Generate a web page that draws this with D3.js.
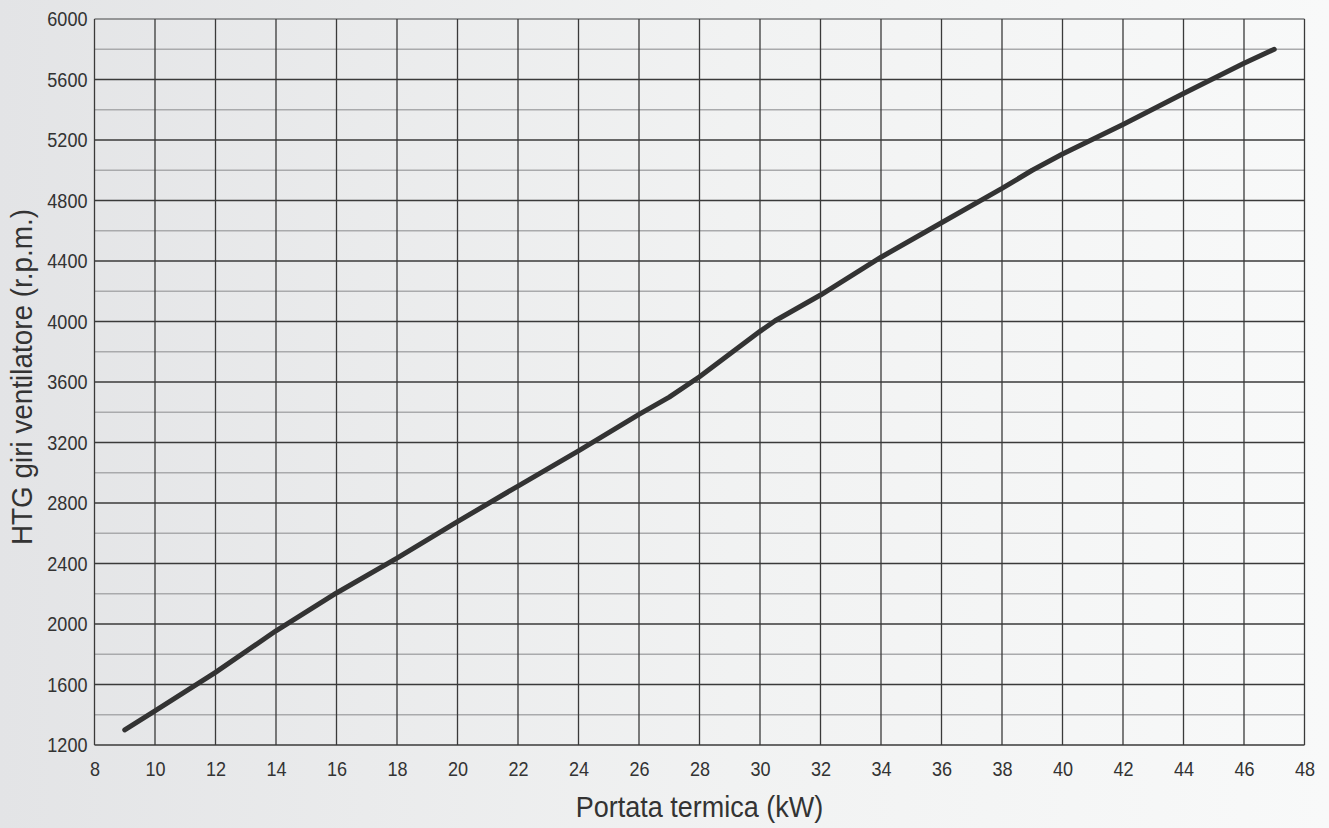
<!DOCTYPE html>
<html>
<head>
<meta charset="utf-8">
<script src="https://cdn.jsdelivr.net/npm/d3@7"></script>
<style>
  html, body { margin: 0; padding: 0; }
  body { width: 1329px; height: 828px; overflow: hidden; }
  text { font-family: "Liberation Sans", Arial, sans-serif; fill: #333; }
</style>
</head>
<body>
<svg id="chart" width="1329" height="828"></svg>
<script>
// Data
const kW  = [9, 10, 12, 14, 16, 18, 20, 22, 24, 26, 27, 28, 30, 30.5, 32, 34, 36, 38, 39, 40, 42, 44, 46, 47];
const rpm = [1300, 1425, 1680, 1955, 2205, 2435, 2677, 2912, 3145, 3386, 3500, 3635, 3935, 4005, 4175, 4425, 4653, 4880, 5000, 5107, 5303, 5508, 5707, 5800];
const xTicks = [8, 10, 12, 14, 16, 18, 20, 22, 24, 26, 28, 30, 32, 34, 36, 38, 40, 42, 44, 46, 48];
const yTicks = [1200, 1600, 2000, 2400, 2800, 3200, 3600, 4000, 4400, 4800, 5200, 5600, 6000];
const yMinor = [1400, 1800, 2200, 2600, 3000, 3400, 3800, 4200, 4600, 5000, 5400, 5800];
const xTitle = "Portata termica (kW)";
const yTitle = "HTG giri ventilatore (r.p.m.)";

const svg = d3.select("#chart");
const W = 1329, H = 828;
const m = { left: 94.5, right: 1304.5, top: 19, bottom: 745 };
const condense = 0.86;

// background gradient
const defs = svg.append("defs");
const grad = defs.append("linearGradient").attr("id", "bg").attr("x1", "0%").attr("x2", "100%").attr("y1", "0%").attr("y2", "0%");
grad.append("stop").attr("offset", "0%").attr("stop-color", "#e3e4e6");
grad.append("stop").attr("offset", "55%").attr("stop-color", "#f1f2f2");
grad.append("stop").attr("offset", "100%").attr("stop-color", "#f8f9f9");
svg.append("rect").attr("width", W).attr("height", H).attr("fill", "url(#bg)");

const x = d3.scaleLinear().domain([8, 48]).range([m.left, m.right]);
const y = d3.scaleLinear().domain([1200, 6000]).range([m.bottom, m.top]);

// minor horizontal grid
svg.append("g").selectAll("line").data(yMinor).join("line")
  .attr("x1", m.left).attr("x2", m.right)
  .attr("y1", d => y(d)).attr("y2", d => y(d))
  .attr("stroke", "#a9aaac").attr("stroke-width", 1.5);

// major horizontal grid
svg.append("g").selectAll("line").data(yTicks).join("line")
  .attr("x1", m.left).attr("x2", m.right)
  .attr("y1", d => y(d)).attr("y2", d => y(d))
  .attr("stroke", d => d === 6000 ? "#7a7b7d" : "#3a3a3a").attr("stroke-width", d => d === 6000 ? 1.6 : 1.3);

// vertical grid
svg.append("g").selectAll("line").data(xTicks).join("line")
  .attr("x1", d => x(d)).attr("x2", d => x(d))
  .attr("y1", m.top).attr("y2", m.bottom)
  .attr("stroke", "#3a3a3a").attr("stroke-width", 1.3);

// axes (labels only, using D3 axes)
const xAxis = svg.append("g").attr("transform", `translate(0,${m.bottom})`)
  .call(d3.axisBottom(x).tickValues(xTicks).tickSize(0).tickPadding(16).tickFormat(d3.format("d")));
xAxis.select(".domain").remove();
xAxis.selectAll("text").attr("font-size", 21).attr("fill", "#333")
  .attr("transform", function () { const yy = +d3.select(this).attr("y"); d3.select(this).attr("y", 0); return `translate(0,${yy}) scale(${condense},1)`; });

const yAxis = svg.append("g").attr("transform", `translate(${m.left},0)`)
  .call(d3.axisLeft(y).tickValues(yTicks).tickSize(0).tickPadding(7).tickFormat(d3.format("d")));
yAxis.select(".domain").remove();
yAxis.selectAll("text").attr("font-size", 21).attr("fill", "#333")
  .attr("transform", function () { const xx = +d3.select(this).attr("x"); d3.select(this).attr("x", 0); return `translate(${xx},0) scale(${condense},1)`; });

// curve
const line = d3.line().x((d, i) => x(kW[i])).y(d => y(d));
svg.append("path").datum(rpm)
  .attr("d", line)
  .attr("fill", "none").attr("stroke", "#333").attr("stroke-width", 5)
  .attr("stroke-linecap", "round").attr("stroke-linejoin", "round");

// titles
svg.append("text").attr("transform", `translate(${(m.left + m.right) / 2},817) scale(0.9,1)`)
  .attr("text-anchor", "middle").attr("font-size", 30).text(xTitle);
svg.append("text").attr("transform", `translate(32,${(m.top + m.bottom) / 2 - 5}) rotate(-90) scale(0.93,1)`)
  .attr("text-anchor", "middle").attr("font-size", 30).text(yTitle);
</script>
</body>
</html>
